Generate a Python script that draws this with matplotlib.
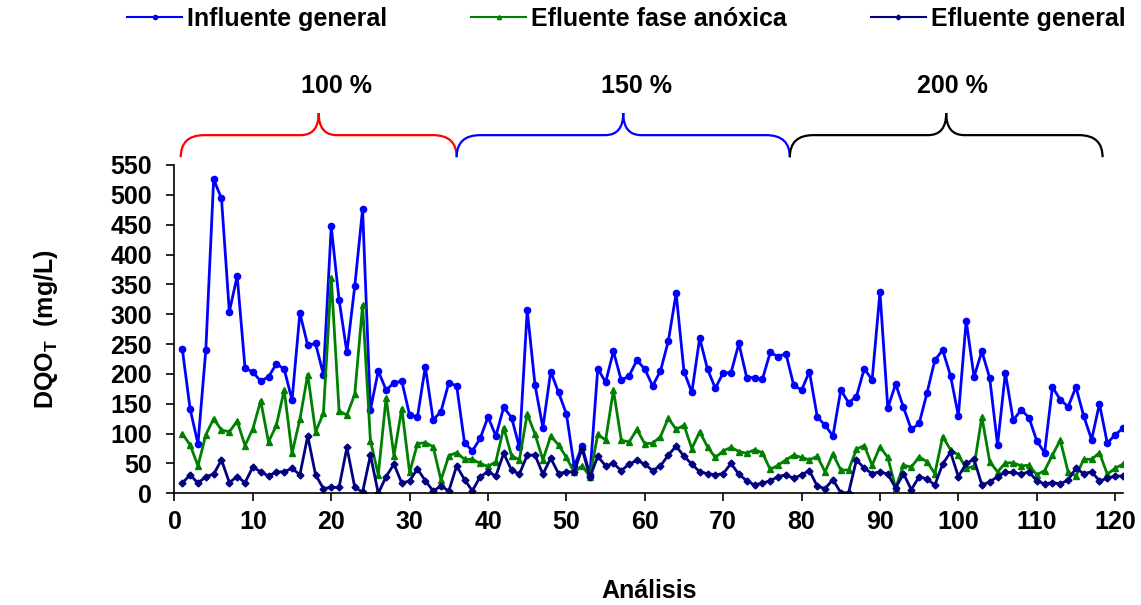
import numpy as np
import matplotlib
matplotlib.use("Agg")
from matplotlib import pyplot as plt
from matplotlib.path import Path
from matplotlib.patches import PathPatch
from matplotlib.lines import Line2D

plt.rcParams['font.family'] = ['Liberation Sans', 'DejaVu Sans']
plt.rcParams['font.weight'] = 'bold'
plt.rcParams['mathtext.fontset'] = 'custom'
plt.rcParams['mathtext.bf'] = 'Liberation Sans:bold'
plt.rcParams['mathtext.rm'] = 'Liberation Sans:bold'

analisis = np.arange(1, 122)

influente = [242, 141, 83, 240, 526, 494, 304, 364, 210, 203,
             188, 195, 217, 208, 156, 302, 248, 251, 199, 447,
             324, 236, 347, 476, 140, 205, 173, 185, 188, 131,
             128, 212, 123, 137, 185, 180, 85, 71, 92, 128,
             96, 144, 127, 77, 307, 181, 110, 204, 169, 133,
             45, 79, 31, 209, 186, 238, 189, 197, 223, 208,
             180, 205, 255, 335, 204, 169, 260, 208, 176, 202,
             202, 251, 194, 194, 191, 236, 229, 234, 181, 173,
             204, 128, 114, 96, 173, 152, 162, 209, 190, 337,
             143, 183, 144, 107, 117, 168, 223, 240, 197, 130,
             289, 195, 238, 193, 81, 202, 122, 140, 127, 88,
             68, 178, 157, 145, 178, 129, 90, 150, 84, 98,
             109]

efluente_anox = [100, 81, 46, 98, 125, 106, 103, 121, 80, 108,
                 155, 86, 114, 173, 67, 124, 199, 103, 134, 361,
                 138, 131, 166, 315, 88, 31, 160, 63, 142, 35,
                 83, 85, 78, 22, 63, 68, 57, 57, 50, 45,
                 53, 110, 63, 56, 133, 99, 56, 96, 81, 60,
                 35, 46, 28, 99, 89, 173, 89, 86, 107, 83,
                 84, 95, 126, 107, 114, 75, 103, 78, 60, 71,
                 77, 70, 67, 73, 68, 40, 47, 56, 64, 60,
                 56, 62, 36, 66, 39, 39, 74, 80, 47, 78,
                 60, 9, 47, 44, 61, 53, 33, 95, 73, 64,
                 42, 45, 128, 53, 36, 51, 51, 46, 47, 31,
                 38, 64, 89, 36, 29, 57, 57, 68, 32, 42,
                 49]

efluente_gen = [17, 31, 17, 28, 32, 56, 18, 28, 18, 44,
                36, 29, 36, 36, 42, 31, 96, 31, 8, 10,
                10, 77, 10, 2, 64, 0, 28, 49, 17, 21,
                41, 21, 4, 12, 4, 46, 23, 4, 28, 36,
                29, 67, 39, 32, 64, 64, 32, 59, 33, 36,
                36, 75, 27, 62, 46, 50, 38, 49, 55, 49,
                38, 46, 64, 79, 62, 49, 36, 33, 31, 33,
                50, 32, 21, 14, 17, 21, 28, 31, 25, 31,
                38, 12, 8, 23, 1, 1, 56, 42, 33, 36,
                32, 9, 33, 6, 28, 24, 14, 49, 69, 28,
                50, 57, 14, 19, 28, 35, 35, 32, 36, 21,
                16, 18, 16, 22, 42, 33, 36, 21, 25, 29,
                29]

# carga por fase: inicio, fin, etiqueta
fase_ini = [0.8, 36.0, 78.5]
fase_fin = [36.0, 78.5, 118.4]
fase_lbl = ['100 %', '150 %', '200 %']
fase_lbl_x = [20.7, 58.9, 99.3]
fase_col = ['#FF0000', '#0000FF', '#000000']

fig = plt.figure(figsize=(11.41, 6.05), dpi=100)
ax = fig.add_axes([0.1529, 0.1846, 0.8313, 0.5427])

ax.plot(analisis, influente, color='#0000FF', lw=2, marker='o', ms=4.5)
ax.plot(analisis, efluente_anox, color='#008000', lw=2, marker='^', ms=5)
ax.plot(analisis, efluente_gen, color='#000080', lw=2, marker='D', ms=3.5)

ax.set_xlim(0, 121)
ax.set_ylim(0, 550)
ax.set_xticks(np.arange(0, 121, 10))
ax.set_yticks(np.arange(0, 551, 50))
ax.spines['top'].set_visible(False)
ax.spines['right'].set_visible(False)
ax.spines['left'].set_linewidth(1.2)
ax.spines['bottom'].set_linewidth(1.2)
ax.tick_params(axis='both', direction='out', length=6, width=1.2, labelsize=18)
ax.tick_params(axis='y', pad=10)
ax.tick_params(axis='x', pad=6)

ax.set_ylabel(r'DQO$_\mathbf{T}$  (mg/L)', fontsize=18, fontweight='bold', labelpad=36)
ax.set_xlabel('Análisis', fontsize=18, fontweight='bold')
ax.xaxis.set_label_coords(0.5, -0.262)


def llave(x0, x1, col):
    yb, ym, yt = 563, 600, 637
    xm = (x0 + x1) / 2
    w = 3.0
    wt = 2.3
    verts = [(x0, yb), (x0, ym), (x0 + w, ym),
             (xm - wt, ym),
             (xm, ym), (xm, yt),
             (xm, ym), (xm + wt, ym),
             (x1 - w, ym),
             (x1, ym), (x1, yb)]
    codes = [Path.MOVETO, Path.CURVE3, Path.CURVE3,
             Path.LINETO,
             Path.CURVE3, Path.CURVE3,
             Path.CURVE3, Path.CURVE3,
             Path.LINETO,
             Path.CURVE3, Path.CURVE3]
    p = PathPatch(Path(verts, codes), fill=False, edgecolor=col, lw=1.6,
                  clip_on=False, transform=ax.transData)
    ax.add_patch(p)


for i in range(3):
    llave(fase_ini[i], fase_fin[i], fase_col[i])
    ax.text(fase_lbl_x[i], 682, fase_lbl[i], ha='center', va='center',
            fontsize=18, fontweight='bold', clip_on=False)

handles = [Line2D([], [], color='#0000FF', lw=1.5, marker='o', ms=3),
           Line2D([], [], color='#008000', lw=1.5, marker='^', ms=3),
           Line2D([], [], color='#000080', lw=1.5, marker='D', ms=2.5)]
labels = ['Influente general', 'Efluente fase anóxica', 'Efluente general']
fig.legend(handles, labels, loc='center', bbox_to_anchor=(0.549, 0.9686),
           ncol=3, frameon=False, fontsize=18, handlelength=2.2,
           handletextpad=0.2, columnspacing=3.35, borderaxespad=0)

fig.savefig('out.png', dpi=100)
